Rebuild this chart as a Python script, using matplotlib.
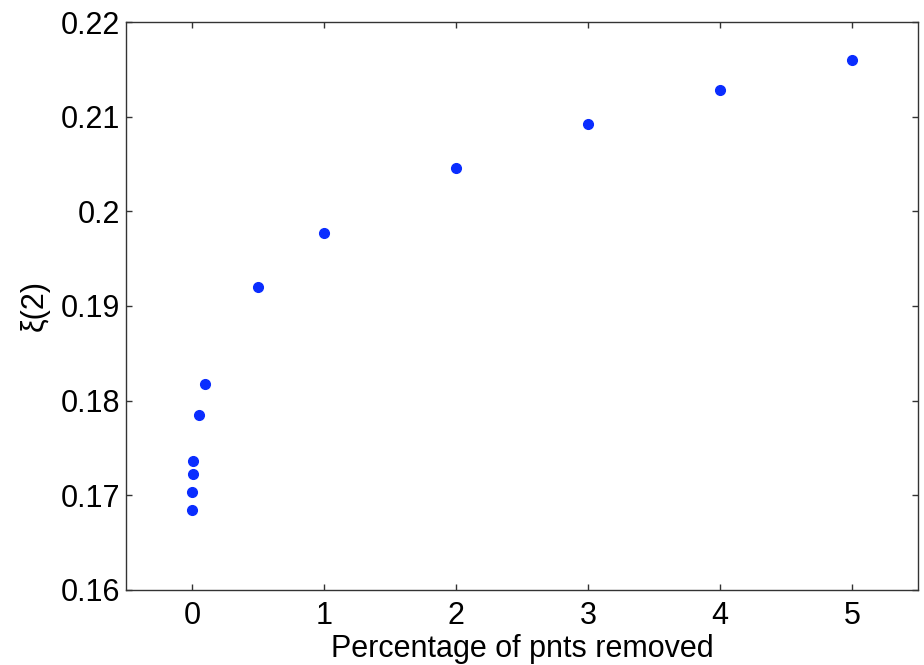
import matplotlib
matplotlib.use('Agg')
from matplotlib import pyplot as plt

# percentage of points removed vs zeta(2)
pct_removed = [0, 0, 0.005, 0.01, 0.05, 0.1, 0.5, 1, 2, 3, 4, 5]
zeta2 = [0.1685, 0.1704, 0.1722, 0.1736, 0.1785, 0.1818,
         0.1920, 0.1977, 0.2046, 0.2092, 0.2128, 0.2160]

xticks = [0, 1, 2, 3, 4, 5]
yticks = [0.16, 0.17, 0.18, 0.19, 0.2, 0.21, 0.22]
yticklabels = ['0.16', '0.17', '0.18', '0.19', '0.2', '0.21', '0.22']

plt.rcParams['font.family'] = ['Liberation Sans', 'DejaVu Sans']

fig = plt.figure(figsize=(9.24, 6.65), dpi=100)
ax = fig.add_axes([0.1364, 0.1128, 0.8571, 0.8541])

ax.plot(pct_removed, zeta2, linestyle='none', marker='o', ms=7,
        color='#0a2dff', mec='#0a2dff')

ax.set_xlim(-0.5, 5.5)
ax.set_ylim(0.16, 0.22)
ax.set_xticks(xticks)
ax.set_yticks(yticks)
ax.set_yticklabels(yticklabels)

ax.tick_params(direction='in', top=True, right=True, length=4.5, width=1,
               labelsize=22, color='#333333')
ax.tick_params(axis='x', pad=8)
ax.tick_params(axis='y', pad=4)
for s in ax.spines.values():
    s.set_linewidth(1.0)
    s.set_color('#333333')

ax.set_xlabel('Percentage of pnts removed', fontsize=22, labelpad=2)
ax.set_ylabel('\u03be(2)', fontsize=22, labelpad=8)

fig.savefig('out.png', dpi=100)
